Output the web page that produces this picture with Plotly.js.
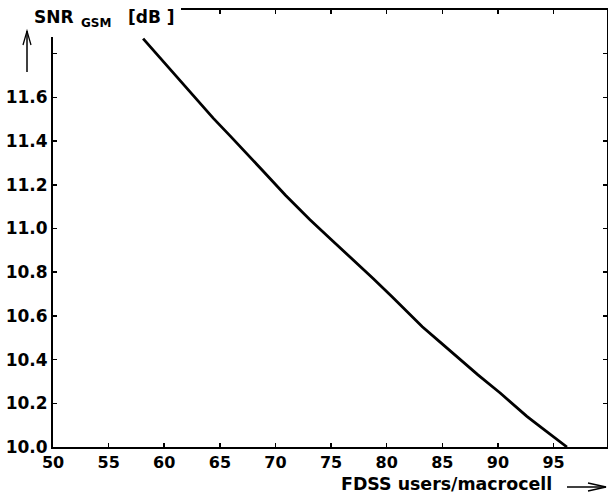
<!DOCTYPE html>
<html>
<head>
<meta charset="utf-8">
<script src="https://cdn.plot.ly/plotly-3.0.1.min.js"></script>
<style>html,body{margin:0;padding:0;background:#fff;}#chart{width:608px;height:501px;}</style>
</head>
<body>
<div id="chart"></div>
<script>
// Data
var users = [58.1, 59.3, 60.5, 61.7, 62.9, 64.4, 65.9, 67.4, 68.9, 70.9, 73.1, 75.0, 77.0, 78.8, 80.5, 81.9, 83.2, 84.8, 86.3, 88.2, 90.2, 91.4, 92.6, 93.5, 94.9, 96.2];
var snr = [11.869, 11.800, 11.727, 11.660, 11.590, 11.505, 11.425, 11.345, 11.262, 11.152, 11.040, 10.950, 10.857, 10.770, 10.687, 10.615, 10.550, 10.480, 10.412, 10.330, 10.247, 10.194, 10.140, 10.105, 10.052, 10.000];
var xTickVals = [50, 55, 60, 65, 70, 75, 80, 85, 90, 95];
var xTickText = ['50', '55', '60', '65', '70', '75', '80', '85', '90', '95'];
var yTickVals = [10.0, 10.2, 10.4, 10.6, 10.8, 11.0, 11.2, 11.4, 11.6, 11.8, 12.0];
var yTickText = ['10.0', '10.2', '10.4', '10.6', '10.8', '11.0', '11.2', '11.4', '11.6', '', ''];

var W = 608, H = 501, ML = 53, MR = 1, MT = 10, MB = 54;
var PW = W - ML - MR, PH = H - MT - MB;
function px(x) { return (x - ML) / PW; }
function py(y) { return (H - MB - y) / PH; }

var FONT = 'DejaVu Sans, Verdana, sans-serif';

var trace = {
  x: users, y: snr, type: 'scatter', mode: 'lines',
  line: {color: '#000', width: 2.8}, hoverinfo: 'skip'
};

var layout = {
  width: W, height: H,
  margin: {l: ML, r: MR, t: MT, b: MB, pad: 0},
  paper_bgcolor: '#fff', plot_bgcolor: '#fff',
  showlegend: false,
  xaxis: {
    range: [50, 99.8], showgrid: false, zeroline: false,
    showline: true, linecolor: '#000', linewidth: 2, mirror: 'ticks',
    ticks: 'inside', ticklen: 4, tickwidth: 1.5, tickcolor: '#000',
    tickvals: xTickVals, ticktext: xTickText,
    tickfont: {family: FONT, size: 16, color: '#000', weight: 'bold'}
  },
  yaxis: {
    range: [10.0, 12.0], showgrid: false, zeroline: false,
    showline: true, linecolor: '#000', linewidth: 2, mirror: 'ticks',
    ticks: 'inside', ticklen: 4, tickwidth: 1.5, tickcolor: '#000',
    tickvals: yTickVals, ticktext: yTickText,
    tickfont: {family: FONT, size: 17, color: '#000', weight: 'bold'}
  },
  shapes: [
    {type: 'rect', xref: 'paper', yref: 'paper', layer: 'above',
     x0: px(-5), x1: px(181), y0: py(37), y1: py(-5),
     fillcolor: '#fff', line: {width: 0}},
    {type: 'path', xref: 'paper', yref: 'paper', layer: 'above',
     path: 'M' + px(27) + ',' + py(72) + ' L' + px(27) + ',' + py(31),
     line: {color: '#000', width: 1.5}},
    {type: 'path', xref: 'paper', yref: 'paper', layer: 'above',
     path: 'M' + px(23) + ',' + py(45) + ' L' + px(27) + ',' + py(31) + ' L' + px(31) + ',' + py(45),
     line: {color: '#000', width: 1.3}},
    {type: 'path', xref: 'paper', yref: 'paper', layer: 'above',
     path: 'M' + px(567) + ',' + py(487) + ' L' + px(606) + ',' + py(487),
     line: {color: '#000', width: 1.5}},
    {type: 'path', xref: 'paper', yref: 'paper', layer: 'above',
     path: 'M' + px(588) + ',' + py(483) + ' L' + px(606) + ',' + py(487) + ' L' + px(588) + ',' + py(491),
     line: {color: '#000', width: 1.3}}
  ],
  annotations: [
    {text: 'SNR', xref: 'paper', yref: 'paper', x: px(32), y: py(16.5),
     xanchor: 'left', yanchor: 'middle', showarrow: false,
     font: {family: FONT, size: 17, color: '#000', weight: 'bold'}},
    {text: 'GSM', xref: 'paper', yref: 'paper', x: px(79), y: py(23),
     xanchor: 'left', yanchor: 'middle', showarrow: false,
     font: {family: FONT, size: 12, color: '#000', weight: 'bold'}},
    {text: '[dB ]', xref: 'paper', yref: 'paper', x: px(126), y: py(16.5),
     xanchor: 'left', yanchor: 'middle', showarrow: false,
     font: {family: FONT, size: 17, color: '#000', weight: 'bold'}},
    {text: 'FDSS users/macrocell', xref: 'paper', yref: 'paper', x: px(339), y: py(484),
     xanchor: 'left', yanchor: 'middle', showarrow: false,
     font: {family: FONT, size: 17.4, color: '#000', weight: 'bold'}}
  ]
};

Plotly.newPlot('chart', [trace], layout, {displayModeBar: false, staticPlot: true});
</script>
</body>
</html>
